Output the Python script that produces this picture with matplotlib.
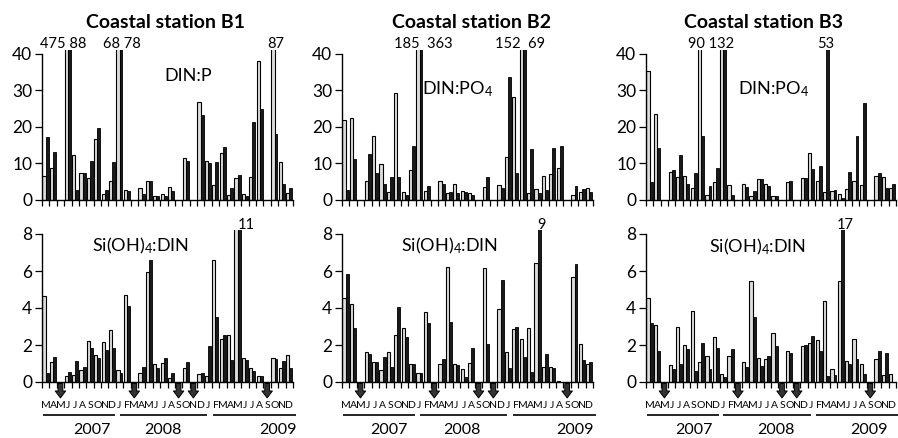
import numpy as np
import matplotlib
matplotlib.use("Agg")
import matplotlib.pyplot as plt

plt.rcParams['font.family'] = ['Lato', 'DejaVu Sans']
plt.rcParams['mathtext.fontset'] = 'custom'
plt.rcParams['mathtext.rm'] = 'Lato'
plt.rcParams['mathtext.it'] = 'Lato:italic'

nan = np.nan
stations = ["Coastal station B1", "Coastal station B2", "Coastal station B3"]
month_letters = list("MAMJJASONDJFMAMJJASONDJFMAMJJASOND")
years = ["2007", "2008", "2009"]
missing_months = [2, 12, 18, 20, 30]

# DIN:P ratios (first / second sampling of each month)
b1_np_a = [6.7, 8.7, nan, 475, 12.4, 7.5, 6.0, 16.7, 1.6, 5.1, 68, 2.8, nan, 3.2, 5.2, 1.2, 1.7,
           3.5, nan, 11.6, nan, 26.9, 10.8, 4.0, 12.9, 1.3, 6.0, 1.7, 6.4, 38, nan, 87, 10.4, 1.8]
b1_np_b = [17.2, 13.1, nan, 88, 2.8, 7.3, 10.8, 19.7, 2.8, 10.4, 78, 2.5, nan, 1.7, 5.2, 1.0, 1.0,
           2.5, nan, 10.7, nan, 23.3, 10.0, 10.5, 14.4, 3.2, 6.8, 1.0, 21.3, 24.8, nan, 18, 4.5, 3.2]
b2_np_a = [22, 22.5, nan, 5.2, 17.5, 9.8, 2.2, 29.4, 2.2, 8.2, 185, 2.5, nan, 5.3, 1.8, 4.5, 2.5,
           1.8, nan, 3.6, nan, 4.2, 11.8, 28.2, 152, 1.8, 3.0, 6.5, 7.0, 8.8, nan, 1.3, 2.2, 3.3]
b2_np_b = [2.7, 11.1, nan, 12.7, 7.3, 4.3, 6.2, 6.4, 1.5, 14.8, 363, 3.8, nan, 4.5, 2.2, 2.0, 2.2,
           1.4, nan, 6.4, nan, 3.4, 33.6, 7.3, 69, 13.9, 1.8, 2.7, 14.3, 14.8, nan, 3.8, 3.0, 2.2]
b3_np_a = [35.4, 23.6, nan, 7.8, 6.3, 6.5, 3.3, 90, 1.3, 5.0, 132, 4.1, nan, 4.5, 1.2, 5.7, 4.4,
           1.0, nan, 4.8, nan, 6.0, 13.0, 5.3, 2.2, 2.5, 1.7, 3.0, 5.3, 4.2, nan, 6.5, 6.2, 3.4]
b3_np_b = [4.9, 14.3, nan, 8.1, 12.3, 4.5, 7.4, 17.5, 3.7, 8.7, 60, 1.5, nan, 3.5, 2.5, 5.7, 3.8,
           1.0, nan, 5.3, nan, 6.0, 8.5, 9.3, 53, 2.8, 0.5, 7.8, 17.5, 26.5, nan, 7.4, 3.4, 4.5]

# Si(OH)4:DIN ratios
b1_sn_a = [4.67, 1.1, nan, 0.35, 0.4, 0.65, 2.23, 1.45, 2.15, 2.8, 0.65, 4.7, nan, 0.5, 5.95, 0.97, 1.05,
           0.2, nan, 0.75, nan, 0.45, 0.35, 6.57, 2.3, 2.55, 11, 1.28, 0.75, 0.3, nan, 1.3, 0.75, 1.45]
b1_sn_b = [0.5, 1.36, nan, 0.55, 1.12, 0.8, 1.85, 1.3, 1.75, 1.85, 0.5, 4.13, nan, 0.8, 6.6, 0.75, 1.3,
           0.5, nan, 1.1, nan, 0.5, 1.95, 3.5, 2.55, 1.2, 9.5, 1.2, 0.6, 0.3, nan, 1.25, 1.15, 0.75]
b2_sn_a = [4.56, 4.2, nan, 1.6, 1.1, 0.65, 1.6, 2.55, 2.91, 0.95, 0.5, 3.8, nan, 0.95, 6.2, 0.95, 0.7,
           1.05, nan, 6.15, nan, 3.95, 1.6, 2.84, 2.3, 2.9, 6.43, 0.8, 0.8, 0.08, nan, 5.67, 2.05, 0.95]
b2_sn_b = [5.85, 2.93, nan, 1.5, 1.1, 1.35, 0.8, 4.04, 2.45, 0.95, 0.5, 3.17, nan, 1.25, 3.26, 0.9, 0.25,
           1.85, nan, 2.05, nan, 5.52, 0.75, 3.0, 1.35, 0.55, 9, 1.5, 0.75, 0.0, nan, 6.37, 1.2, 1.1]
b3_sn_a = [4.52, 3.1, nan, 0.93, 2.96, 2.0, 3.82, 1.1, 1.4, 2.43, 0.45, 1.4, nan, 1.1, 5.45, 1.3, 1.25,
           2.64, nan, 1.7, nan, 1.95, 2.1, 2.25, 4.39, 0.7, 5.45, 1.15, 2.34, 1.0, nan, 1.25, 0.4, 0.45]
b3_sn_b = [3.2, 1.65, nan, 0.7, 1.0, 1.8, 0.62, 2.12, 0.72, 1.85, 0.25, 1.8, nan, 0.8, 3.53, 0.85, 1.4,
           1.95, nan, 1.55, nan, 2.0, 2.5, 1.7, 0.3, 0.4, 17, 1.0, 1.25, 0.45, nan, 1.65, 1.55, 0.0]

top_data = [(b1_np_a, b1_np_b), (b2_np_a, b2_np_b), (b3_np_a, b3_np_b)]
bot_data = [(b1_sn_a, b1_sn_b), (b2_sn_a, b2_sn_b), (b3_sn_a, b3_sn_b)]
top_names = ["DIN:P", "DIN:PO$_{\\mathrm{4}}$", "DIN:PO$_{\\mathrm{4}}$"]
bot_name = "Si(OH)$_{\\mathrm{4}}$:DIN"

# off-scale value labels: (text, month position)
top_off = [[("475 88", 2.9), ("68 78", 10.8), ("87", 31.6)],
           [("185  363", 11.0), ("152  69", 24.1)],
           [("90 132", 8.8), ("53", 24.5)]]
bot_off = [[("11", 27.6)], [("9", 27.05)], [("17", 27.1)]]

top_label_pos = [(19.8, 33.9), (15.7, 30.4), (17.3, 30.4)]
bot_label_pos = [(13.3, 7.37), (14.6, 7.37), (15.2, 7.3)]
year_pos = [[6.8, 16.4, 32.0], [6.4, 16.2, 31.6], [6.5, 17.7, 30.3]]
year_lines = [(0.1, 9.9), (10.5, 22.4), (23.1, 34.4)]

W, H = 898, 438
fig = plt.figure(figsize=(W / 100, H / 100), dpi=100)

lefts = [42, 342, 646]
widths = [251, 251, 250]
title_x = [166, 472, 764]

LIGHT = '#dddddd'
DARK = '#1a1a1a'
months = np.arange(34)


def style_axis(ax, ymax, ybound, yticks):
    ax.set_xlim(0, 34)
    ax.set_ylim(0, ymax)
    ax.spines['top'].set_visible(False)
    ax.spines['right'].set_visible(False)
    ax.spines['left'].set_bounds(0, ybound)
    for s in ('left', 'bottom'):
        ax.spines[s].set_linewidth(1.0)
    ax.set_xticks(np.arange(35))
    ax.set_xticklabels([])
    ax.set_yticks(yticks)
    ax.tick_params(axis='x', direction='out', length=4.5, width=0.9)
    ax.tick_params(axis='y', direction='out', length=5, width=0.9, labelsize=12.5, pad=2)


def draw_bars(ax, a, b):
    a = np.array(a, dtype=float)
    b = np.array(b, dtype=float)
    ma = ~np.isnan(a)
    mb = ~np.isnan(b)
    ax.bar(months[ma] + 0.06, a[ma], width=0.44, align='edge', color=LIGHT,
           edgecolor='black', linewidth=0.8)
    ax.bar(months[mb] + 0.5, b[mb], width=0.40, align='edge', color=DARK,
           edgecolor='black', linewidth=0.6)


for i in range(3):
    # top panel
    axt = fig.add_axes([lefts[i] / W, (H - 200) / H, widths[i] / W, 149.7 / H])
    draw_bars(axt, *top_data[i])
    style_axis(axt, 41, 40, [0, 10, 20, 30, 40])
    axt.text(*top_label_pos[i], top_names[i], ha='center', va='center', fontsize=13)
    for txt, xp in top_off[i]:
        axt.text(xp, 41.6, txt, ha='center', va='baseline', fontsize=10.5, clip_on=False)

    # bottom panel
    axb = fig.add_axes([lefts[i] / W, (H - 382) / H, widths[i] / W, 151.7 / H])
    draw_bars(axb, *bot_data[i])
    style_axis(axb, 8.2, 8, [0, 2, 4, 6, 8])
    axb.text(*bot_label_pos[i], bot_name, ha='center', va='center', fontsize=13)
    for txt, xp in bot_off[i]:
        axb.text(xp, 8.28, txt, ha='center', va='baseline', fontsize=10.5, clip_on=False)

    tr = axb.get_xaxis_transform()
    for m, letter in enumerate(month_letters):
        axb.text(m + 0.5, -0.152, letter, transform=tr, ha='center', va='center',
                 fontsize=7.5, clip_on=False)
    for (x0, x1) in year_lines:
        axb.plot([x0, x1], [-0.218, -0.218], transform=tr, color='black', lw=1.2,
                 clip_on=False, solid_capstyle='butt')
    for yr, xp in zip(years, year_pos[i]):
        axb.text(xp, -0.316, yr, transform=tr, ha='center', va='center', fontsize=11.5,
                 clip_on=False)
    for m in missing_months:
        axb.annotate('', xy=(m + 0.5, -0.105), xytext=(m + 0.5, -0.01),
                     xycoords=tr, textcoords=tr,
                     arrowprops=dict(arrowstyle='simple,head_width=0.75,head_length=0.5,tail_width=0.34',
                                     fc='#333333', ec='black', lw=0.7, shrinkA=0, shrinkB=0),
                     annotation_clip=False)

    fig.text(title_x[i] / W, (H - 22) / H, stations[i], ha='center', va='center',
             fontsize=14, fontweight='bold')

fig.savefig('out.png', dpi=100)
